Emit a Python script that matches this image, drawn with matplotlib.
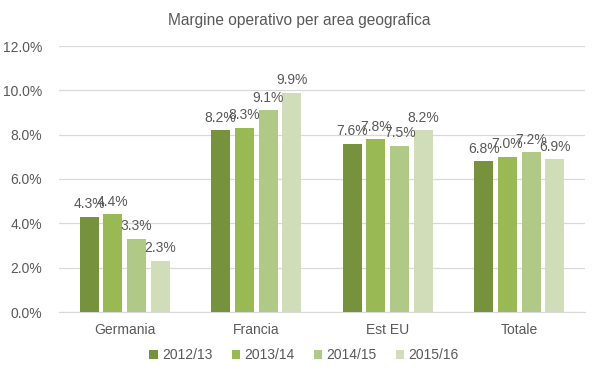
import matplotlib
matplotlib.use("Agg")
import matplotlib.pyplot as plt
import numpy as np

categories = ["Germania", "Francia", "Est EU", "Totale"]
series = ["2012/13", "2013/14", "2014/15", "2015/16"]
values = {
    "2012/13": [4.3, 8.2, 7.6, 6.8],
    "2013/14": [4.4, 8.3, 7.8, 7.0],
    "2014/15": [3.3, 9.1, 7.5, 7.2],
    "2015/16": [2.3, 9.9, 8.2, 6.9],
}
colors = ["#76923C", "#98B954", "#B0C986", "#D0DDB8"]
yticks = [0, 2, 4, 6, 8, 10, 12]

plt.rcParams['font.family'] = ['Liberation Sans', 'DejaVu Sans']
txt = "#595959"

fig = plt.figure(figsize=(5.99, 3.78), dpi=100)
ax = fig.add_axes([59 / 599, 1 - 312 / 378, 526 / 599, 266 / 378])

x = np.arange(len(categories))
width = 0.144
pitch = 0.18
for i, s in enumerate(series):
    off = (i - 1.5) * pitch
    bars = ax.bar(x + off, values[s], width, color=colors[i], label=s, zorder=3)
    for b, v in zip(bars, values[s]):
        ax.text(b.get_x() + b.get_width() / 2, v + 0.25, f"{v:.1f}%",
                ha="center", va="bottom", fontsize=10, color=txt, zorder=4)

ax.set_xlim(-0.5, len(categories) - 0.5)
ax.set_ylim(0, 12)
ax.set_yticks(yticks)
ax.set_yticklabels([f"{t:.1f}%" for t in yticks], fontsize=10, color=txt)
ax.set_xticks(x)
ax.set_xticklabels(categories, fontsize=10, color=txt)
ax.tick_params(axis="y", length=0, pad=12)
ax.tick_params(axis="x", length=0, pad=8)
ax.grid(axis="y", color="#D9D9D9", linewidth=0.9, zorder=0)
for sp in ["top", "right", "left"]:
    ax.spines[sp].set_visible(False)
ax.spines["bottom"].set_color("#D9D9D9")

fig.text(299 / 599, 1 - 20 / 378, "Margine operativo per area geografica", ha="center",
         va="center", fontsize=11.2, color=txt)

leg = fig.legend(loc="center", bbox_to_anchor=(304 / 599, 1 - 355 / 378), ncol=4, frameon=False,
                 fontsize=10, handlelength=0.6, handleheight=0.6, handletextpad=0.3,
                 columnspacing=1.4)
for t in leg.get_texts():
    t.set_color(txt)

fig.savefig("out.png", dpi=100)
